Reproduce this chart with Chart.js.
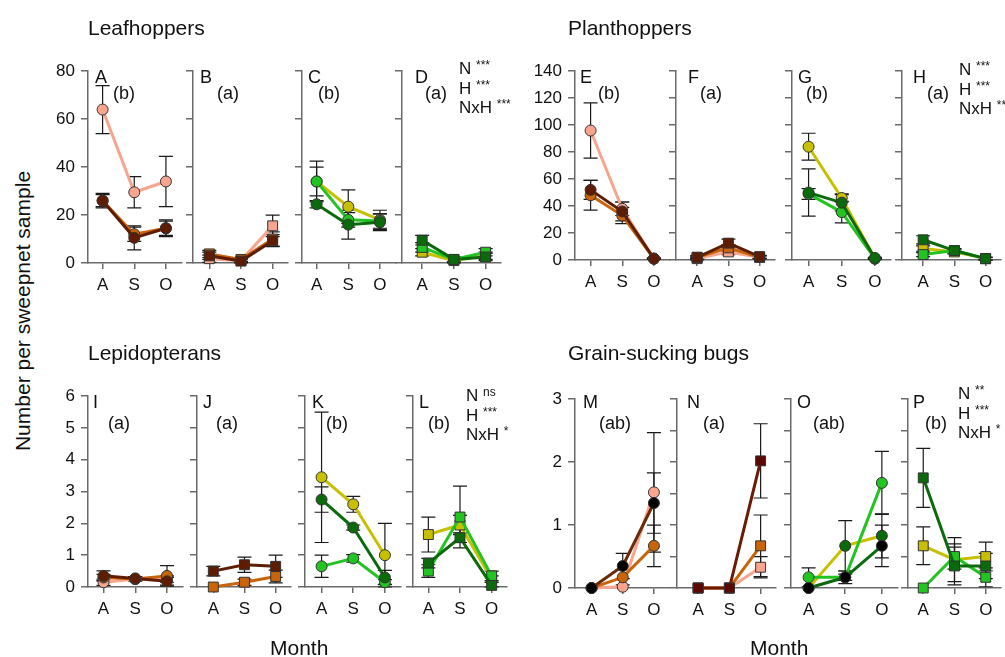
<!DOCTYPE html>
<html>
<head>
<meta charset="utf-8">
<script src="https://cdn.jsdelivr.net/npm/chart.js@4"></script>
<style>
  html, body { margin: 0; padding: 0; background: #fff; overflow: hidden; }
  #page { position: relative; width: 1005px; height: 657px; font-family: 'Liberation Sans', Arial, sans-serif; color: #111; }
  #page canvas { position: absolute; }
  .txt { position: absolute; white-space: nowrap; line-height: 1; transform: translateY(-50%); }
  .title { font-size: 21px; }
  .plab { font-size: 18px; }
  .stat { font-size: 17px; }
  .stat span { font-size: 12px; position: relative; top: -5px; }
</style>
</head>
<body>
<div id="page"></div>
<script>
// Month categories and tick values
const months = ['A', 'S', 'O'];
const leafTicks = [0, 20, 40, 60, 80];
const plantTicks = [0, 20, 40, 60, 80, 100, 120, 140];
const lepiTicks = [0, 1, 2, 3, 4, 5, 6];
const grainTicks = [0, 1, 2, 3];
const grainMinorTicks = [0, 0.5, 1, 1.5, 2, 2.5, 3];

// Means and standard errors, one row per series
// brown panels: [dark, mid, pale]   green panels: [dark, bright, yellow]
const aMean = [[26, 10.5, 14.5], [26, 12, 14.5], [64, 29.5, 34]];
const aErr = [[2.5, 5, 3.5], [3, 3, 3], [10, 6.5, 10.5]];
const bMean = [[3, 0.8, 9.3], [3.8, 1.5, 10], [1.8, 1, 15.5]];
const bErr = [[1.5, 0.8, 2.5], [1.5, 0.8, 3], [1.5, 0.8, 4.5]];
const cMean = [[24.5, 16, 17], [34, 18, 17.5], [34, 23.5, 18]];
const cErr = [[1.5, 6, 3.5], [6, 3, 3], [8.5, 7, 4]];
const dMean = [[9.5, 1.5, 2.5], [6.5, 1.5, 4.5], [4.5, 1, 3]];
const dErr = [[2, 1, 1.5], [2, 1, 1.5], [1.5, 1, 1.5]];

const eMean = [[52, 36, 1], [48, 33, 1], [96, 38, 1]];
const eErr = [[7, 7, 0.5], [11, 6, 0.5], [20.5, 5, 0.5]];
const fMean = [[2, 12.5, 2.5], [2, 9, 2], [1, 6, 2]];
const fErr = [[1, 3, 1], [1, 2.5, 1], [1, 2, 1]];
const gMean = [[50, 42.5, 1.5], [49, 35.5, 1], [84, 46, 1]];
const gErr = [[17.5, 6, 0.5], [4, 8, 0.5], [10, 3, 0.5]];
const hMean = [[15, 7, 1], [4, 7, 1], [8.5, 6, 1]];
const hErr = [[3, 1.5, 1], [1.5, 1.5, 1], [2, 1.5, 1]];

const iMean = [[0.35, 0.27, 0.18], [0.3, 0.25, 0.35], [0.15, 0.25, 0.25]];
const iErr = [[0.16, 0.06, 0.12], [0.1, 0.06, 0.32], [0.1, 0.06, 0.1]];
const jMean = [[0.5, 0.7, 0.65], [0, 0.15, 0.33]];
const jErr = [[0.15, 0.24, 0.35], [0, 0.1, 0.2]];
const kMean = [[2.75, 1.87, 0.3], [0.65, 0.9, 0.15], [3.45, 2.6, 1.0]];
const kErr = [[0.4, 0.08, 0.22], [0.35, 0.12, 0.08], [2.05, 0.25, 1.0]];
const lMean = [[0.75, 1.55, 0.05], [0.5, 2.2, 0.35], [1.65, 1.95, 0.25]];
const lErr = [[0.15, 0.15, 0.1], [0.2, 0.97, 0.15], [0.55, 0.3, 0.1]];

const mMean = [[0, 0.35, 1.35], [0, 0.17, 0.67], [0, 0.02, 1.52]];
const mErr = [[0, 0.2, 0.48], [0, 0.12, 0.33], [0, 0, 0.95]];
const nMean = [[0, 0, 2.02], [0, 0, 0.67], [0, 0, 0.33]];
const nErr = [[0, 0, 0.59], [0, 0, 0.49], [0, 0, 0.17]];
const oMean = [[0, 0.17, 0.67], [0.17, 0.17, 1.67], [0, 0.67, 0.83]];
const oErr = [[0, 0.1, 0.33], [0.15, 0.05, 0.5], [0, 0.4, 0.35]];
const pMean = [[1.75, 0.35, 0.35], [0, 0.5, 0.17], [0.67, 0.45, 0.5]];
const pErr = [[0.47, 0.3, 0.2], [0, 0.2, 0.15], [0.3, 0.35, 0.23]];

// colours: line colour and marker colour per series
const brown = [
    { line: '#5e1c02', point: '#5e1c02' },
    { line: '#c8640a', point: '#c8640a' },
    { line: '#f7a58e', point: '#f7a58e' }
];
const green = [
    { line: '#0b6a0b', point: '#0b6a0b' },
    { line: '#22c422', point: '#22c422' },
    { line: '#c7c000', point: '#c7c000' }
];
const brownM = [{ line: '#6b2a0a', point: '#000000' }, brown[1], brown[2]];
const brownN = [{ line: '#6b1a05', point: '#5a0800' }, brown[1], brown[2]];
const greenO = [{ line: '#0b6a0b', point: '#000000' }, green[1], { line: '#c7c000', point: '#0b6a0b' }];

// panel placement on the page (pixels)
const top1 = { yTop: 67, y0: 263 };
const top2 = { yTop: 67, y0: 260 };
const bot1 = { yTop: 392, y0: 587 };
const bot2 = { yTop: 395, y0: 588 };

const panels = [
    { id: 'A', mean: aMean, err: aErr, pal: brown, shape: 'circle', ticks: leafTicks, labels: true, row: top1, ax: 88, cA: 103, sp: 32.5, grp: '(b)', lx: 7, gx: 25 },
    { id: 'B', mean: bMean, err: bErr, pal: brown, shape: 'rect', ticks: leafTicks, row: top1, ax: 193, cA: 210, sp: 33, grp: '(a)', lx: 7, gx: 24 },
    { id: 'C', mean: cMean, err: cErr, pal: green, shape: 'circle', ticks: leafTicks, row: top1, ax: 302, cA: 317, sp: 32.5, grp: '(b)', lx: 6, gx: 16 },
    { id: 'D', mean: dMean, err: dErr, pal: green, shape: 'rect', ticks: leafTicks, row: top1, ax: 402, cA: 423, sp: 33, grp: '(a)', lx: 13, gx: 23 },
    { id: 'E', mean: eMean, err: eErr, pal: brown, shape: 'circle', ticks: plantTicks, labels: true, row: top2, ax: 575, cA: 591, sp: 32.5, grp: '(b)', lx: 5, gx: 23 },
    { id: 'F', mean: fMean, err: fErr, pal: brown, shape: 'rect', ticks: plantTicks, row: top2, ax: 676, cA: 698, sp: 32.5, grp: '(a)', lx: 12, gx: 24 },
    { id: 'G', mean: gMean, err: gErr, pal: green, shape: 'circle', ticks: plantTicks, row: top2, ax: 792, cA: 809, sp: 34, grp: '(b)', lx: 6, gx: 14 },
    { id: 'H', mean: hMean, err: hErr, pal: green, shape: 'rect', ticks: plantTicks, row: top2, ax: 902, cA: 924, sp: 32.5, grp: '(a)', lx: 11, gx: 25 },
    { id: 'I', mean: iMean, err: iErr, pal: brown, shape: 'circle', ticks: lepiTicks, labels: true, row: bot1, ax: 88, cA: 104, sp: 32.7, grp: '(a)', lx: 5, gx: 20 },
    { id: 'J', mean: jMean, err: jErr, pal: brown, shape: 'rect', ticks: lepiTicks, row: bot1, ax: 197, cA: 214, sp: 32.5, grp: '(a)', lx: 6, gx: 19 },
    { id: 'K', mean: kMean, err: kErr, pal: green, shape: 'circle', ticks: lepiTicks, row: bot1, ax: 305, cA: 322, sp: 32.5, grp: '(b)', lx: 7, gx: 21 },
    { id: 'L', mean: lMean, err: lErr, pal: green, shape: 'rect', ticks: lepiTicks, row: bot1, ax: 413, cA: 429, sp: 33, grp: '(b)', lx: 6, gx: 15 },
    { id: 'M', mean: mMean, err: mErr, pal: brownM, shape: 'circle', ticks: grainTicks, labels: true, row: bot2, ax: 575, cA: 592, sp: 32, grp: '(ab)', lx: 8, gx: 24 },
    { id: 'N', mean: nMean, err: nErr, pal: brownN, shape: 'rect', ticks: grainMinorTicks, row: bot2, ax: 677, cA: 699, sp: 32.5, grp: '(a)', lx: 10, gx: 26 },
    { id: 'O', mean: oMean, err: oErr, pal: greenO, shape: 'circle', ticks: grainMinorTicks, row: bot2, ax: 791, cA: 809, sp: 37.5, grp: '(ab)', lx: 6, gx: 22 },
    { id: 'P', mean: pMean, err: pErr, pal: green, shape: 'rect', ticks: grainMinorTicks, row: bot2, ax: 908, cA: 924, sp: 32.8, grp: '(b)', lx: 5, gx: 17 }
];

const AXIS_W = 45;   // room for y tick labels
const AXIS_H = 40;   // room for month labels
const PAD_TOP = 12;
const axisGrey = '#6a6a6a';

Chart.defaults.font.family = "'Liberation Sans', Arial, sans-serif";
Chart.defaults.color = '#111';

// draws the vertical error bars under the markers
const errorBars = {
    id: 'errorBars',
    beforeDatasetsDraw(chart) {
        const { ctx, scales: { x, y } } = chart;
        ctx.save();
        ctx.strokeStyle = '#1a1a1a';
        ctx.lineWidth = 1.2;
        chart.data.datasets.forEach(ds => {
            ds.data.forEach((p, i) => {
                const e = ds.err[i];
                if (!e) return;
                const px = x.getPixelForValue(p.x);
                const hi = y.getPixelForValue(p.y + e);
                const lo = y.getPixelForValue(Math.max(0, p.y - e));
                ctx.beginPath();
                ctx.moveTo(px, hi); ctx.lineTo(px, lo);
                ctx.moveTo(px - 7, hi); ctx.lineTo(px + 7, hi);
                ctx.moveTo(px - 7, lo); ctx.lineTo(px + 7, lo);
                ctx.stroke();
            });
        });
        ctx.restore();
    }
};

const page = document.getElementById('page');

function addText(cls, html, left, top) {
    const d = document.createElement('div');
    d.className = 'txt ' + cls;
    d.innerHTML = html;
    d.style.left = left + 'px';
    d.style.top = top + 'px';
    page.appendChild(d);
    return d;
}

function makePanel(p) {
    const xEnd = p.cA + 2 * p.sp + 16;
    const plotW = xEnd - p.ax;
    const plotH = p.row.y0 - p.row.yTop;
    const canvas = document.createElement('canvas');
    canvas.width = AXIS_W + plotW + 4;
    canvas.height = PAD_TOP + plotH + AXIS_H;
    canvas.style.left = (p.ax - AXIS_W) + 'px';
    canvas.style.top = (p.row.yTop - PAD_TOP) + 'px';
    page.appendChild(canvas);

    const yMax = p.ticks[p.ticks.length - 1];

    new Chart(canvas, {
        type: 'line',
        data: {
            datasets: p.mean.map((vals, k) => ({
                data: vals.map((v, i) => ({ x: i, y: v })),
                err: p.err[k],
                borderColor: p.pal[k].line,
                pointBackgroundColor: p.pal[k].point,
                pointBorderColor: '#333',
                pointBorderWidth: 1,
                pointStyle: p.shape,
                pointRadius: p.shape === 'rect' ? 7 : 5.5,
                borderWidth: 3,
                tension: 0,
                fill: false,
                clip: false
            }))
        },
        options: {
            responsive: false,
            animation: false,
            events: [],
            layout: { padding: { top: PAD_TOP, right: 4, left: 0, bottom: 0 } },
            plugins: { legend: { display: false }, tooltip: { enabled: false } },
            scales: {
                x: {
                    type: 'linear',
                    min: -(p.cA - p.ax) / p.sp,
                    max: 2 + 16 / p.sp,
                    afterBuildTicks: s => { s.ticks = months.map((m, i) => ({ value: i })); },
                    afterFit: s => { s.height = AXIS_H; },
                    ticks: {
                        callback: v => months[v],
                        autoSkip: false,
                        maxRotation: 0,
                        padding: 6,
                        font: { size: 17 },
                        color: '#111'
                    },
                    grid: { drawOnChartArea: false, tickLength: 6, color: axisGrey, lineWidth: 1.5 },
                    border: { color: axisGrey, width: 1.5 }
                },
                y: {
                    min: 0,
                    max: yMax,
                    afterBuildTicks: s => { s.ticks = p.ticks.map(v => ({ value: v })); },
                    afterFit: s => { s.width = AXIS_W; },
                    ticks: {
                        callback: v => (p.labels ? String(v) : ''),
                        autoSkip: false,
                        padding: 6,
                        font: { size: 17 },
                        color: '#111'
                    },
                    grid: { drawOnChartArea: false, tickLength: 7, color: axisGrey, lineWidth: 1.5 },
                    border: { color: axisGrey, width: 1.5 }
                }
            }
        },
        plugins: [errorBars]
    });

    // panel letter and group letter
    const topRow = p.row.yTop < 200;
    addText('plab', p.id, p.ax + p.lx, topRow ? 77 : 402);
    addText('plab', p.grp, p.ax + p.gx, topRow ? 93 : 423);
}

panels.forEach(makePanel);

// group titles
addText('title', 'Leafhoppers', 88, 27);
addText('title', 'Planthoppers', 568, 27);
addText('title', 'Lepidopterans', 88, 352);
addText('title', 'Grain-sucking bugs', 568, 352);
addText('title', 'Month', 270, 647);
addText('title', 'Month', 750, 647);

// y axis title
const yTitle = addText('title', 'Number per sweepnet sample', 22, 311);
yTitle.style.transform = 'translate(-50%, -50%) rotate(-90deg)';

// test results
function addStats(x, y, lines) {
    lines.forEach((ln, i) => {
        addText('stat', ln[0] + ' <span>' + ln[1] + '</span>', x, y + i * 19.5);
    });
}
addStats(459, 68, [['N', '***'], ['H', '***'], ['NxH', '***']]);
addStats(959, 69, [['N', '***'], ['H', '***'], ['NxH', '***']]);
addStats(466, 395, [['N', 'ns'], ['H', '***'], ['NxH', '*']]);
addStats(958, 393, [['N', '**'], ['H', '***'], ['NxH', '*']]);
</script>
</body>
</html>
